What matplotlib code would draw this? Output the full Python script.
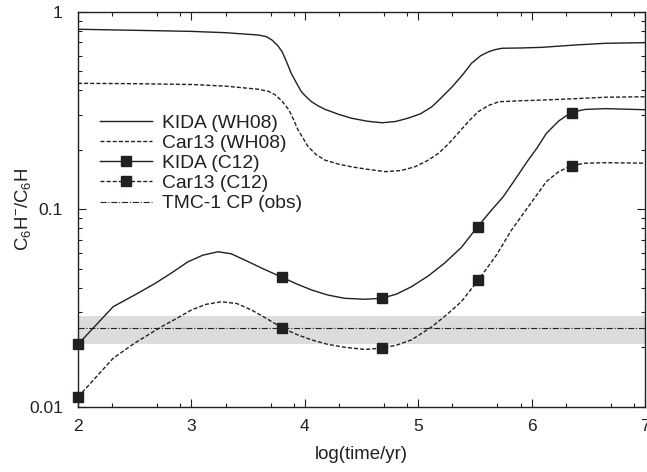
import matplotlib
matplotlib.use("Agg")
import matplotlib.pyplot as plt
from matplotlib.lines import Line2D
from matplotlib.ticker import FixedLocator, FuncFormatter, LogLocator, NullFormatter
import numpy as np

plt.rcParams['font.family'] = ['Liberation Sans', 'DejaVu Sans']
plt.rcParams['mathtext.fontset'] = 'custom'
plt.rcParams['mathtext.rm'] = 'Liberation Sans'
plt.rcParams['mathtext.it'] = 'Liberation Sans'

# ---- data ----
kida_wh08_x = [2.0, 2.5, 3.0, 3.30, 3.59, 3.66, 3.71, 3.76, 3.80, 3.84, 3.88, 3.93, 3.97, 4.02,
               4.06, 4.12, 4.18, 4.30, 4.41, 4.55, 4.68, 4.80, 4.91, 5.02, 5.12, 5.20, 5.30,
               5.39, 5.47, 5.55, 5.62, 5.68, 5.74, 5.90, 6.09, 6.38, 6.65, 7.0]
kida_wh08_y = [0.815, 0.805, 0.795, 0.783, 0.762, 0.748, 0.719, 0.675, 0.627, 0.556, 0.488,
               0.432, 0.393, 0.367, 0.350, 0.333, 0.320, 0.302, 0.289, 0.279, 0.274, 0.278,
               0.289, 0.304, 0.330, 0.365, 0.417, 0.478, 0.548, 0.598, 0.627, 0.643, 0.653,
               0.655, 0.660, 0.678, 0.692, 0.697]

car13_wh08_x = [2.0, 2.5, 3.0, 3.30, 3.59, 3.68, 3.74, 3.80, 3.86, 3.90, 3.94, 3.99, 4.03, 4.10,
                4.18, 4.30, 4.41, 4.56, 4.71, 4.85, 4.97, 5.08, 5.18, 5.27, 5.35, 5.44, 5.53,
                5.62, 5.71, 5.90, 6.09, 6.35, 6.65, 7.0]
car13_wh08_y = [0.434, 0.432, 0.428, 0.420, 0.405, 0.395, 0.379, 0.352, 0.318, 0.285, 0.252,
                0.226, 0.207, 0.189, 0.177, 0.169, 0.164, 0.159, 0.155, 0.157, 0.164, 0.176,
                0.192, 0.215, 0.242, 0.277, 0.312, 0.335, 0.350, 0.354, 0.357, 0.362, 0.369,
                0.371]

kida_c12_x = [2.0, 2.31, 2.50, 2.68, 2.83, 2.97, 3.10, 3.235, 3.35, 3.47, 3.63, 3.80, 3.93,
              4.06, 4.20, 4.35, 4.53, 4.68, 4.81, 4.94, 5.09, 5.23, 5.38, 5.52, 5.64, 5.75,
              5.86, 5.96, 6.05, 6.13, 6.24, 6.35, 6.47, 6.65, 7.0]
kida_c12_y = [0.0207, 0.0321, 0.0368, 0.0421, 0.0478, 0.0542, 0.0585, 0.0609, 0.0595, 0.0553,
              0.0500, 0.0452, 0.0418, 0.0390, 0.0368, 0.0354, 0.0350, 0.0354, 0.0372, 0.0405,
              0.0460, 0.0532, 0.0640, 0.081, 0.098, 0.1157, 0.143, 0.174, 0.205, 0.242, 0.280,
              0.309, 0.320, 0.323, 0.319]

car13_c12_x = [2.0, 2.31, 2.50, 2.735, 2.87, 3.00, 3.13, 3.264, 3.40, 3.53, 3.67, 3.80, 3.93,
               4.06, 4.20, 4.35, 4.53, 4.68, 4.81, 4.94, 5.03, 5.12, 5.25, 5.38, 5.53, 5.69,
               5.82, 5.96, 6.05, 6.13, 6.24, 6.35, 6.47, 6.65, 7.0]
car13_c12_y = [0.0112, 0.0176, 0.0210, 0.0254, 0.0280, 0.0309, 0.0330, 0.0340, 0.0333, 0.0309,
               0.0278, 0.0251, 0.0232, 0.0218, 0.0207, 0.0200, 0.0195, 0.0198, 0.0205, 0.0218,
               0.0235, 0.0254, 0.0292, 0.0340, 0.0438, 0.0586, 0.078, 0.101, 0.119, 0.138,
               0.155, 0.166, 0.171, 0.172, 0.171]

marker_x = [2.0, 3.802, 4.681, 5.525, 6.354]
kida_c12_marker_y = [0.0207, 0.0452, 0.0354, 0.081, 0.308]
car13_c12_marker_y = [0.0112, 0.0251, 0.0198, 0.0438, 0.166]

tmc1_obs = 0.025
tmc1_low = 0.0208
tmc1_high = 0.0288

labels = ['KIDA (WH08)', 'Car13 (WH08)', 'KIDA (C12)', 'Car13 (C12)', 'TMC-1 CP (obs)']

# ---- plot ----
fig = plt.figure(figsize=(6.47, 4.72), dpi=100)
ax = fig.add_axes([0.1206, 0.1383, 0.8763, 0.8369])

ink = '#231f20'
dash = (0, (2.9, 1.5))
dashdot = (0, (5.5, 1.6, 1.0, 1.6))
lw = 1.0

ax.axhspan(tmc1_low, tmc1_high, color='#dcdcde', lw=0, zorder=0)
ax.axhline(tmc1_obs, color=ink, lw=0.8, linestyle=dashdot, zorder=1)

ax.plot(kida_wh08_x, kida_wh08_y, color=ink, lw=lw, zorder=2)
ax.plot(car13_wh08_x, car13_wh08_y, color=ink, lw=lw, linestyle=dash, zorder=2)
ax.plot(kida_c12_x, kida_c12_y, color=ink, lw=lw, zorder=2)
ax.plot(car13_c12_x, car13_c12_y, color=ink, lw=lw, linestyle=dash, zorder=2)
ax.plot(marker_x, kida_c12_marker_y, 's', color=ink, ms=7.6, zorder=3, clip_on=False)
ax.plot(marker_x, car13_c12_marker_y, 's', color=ink, ms=7.6, zorder=3, clip_on=False)

ax.set_yscale('log')
ax.set_xlim(2, 7)
ax.set_ylim(0.01, 1)

ax.xaxis.set_major_locator(FixedLocator([2, 3, 4, 5, 6, 7]))
minors = []
for d in range(2, 7):
    for f in (0.301, 0.699, 0.903):
        minors.append(d + f)
ax.xaxis.set_minor_locator(FixedLocator(minors))

ax.yaxis.set_major_locator(FixedLocator([0.01, 0.1, 1]))
ax.yaxis.set_major_formatter(FuncFormatter(lambda v, p: {0.01: '0.01', 0.1: '0.1', 1: '1'}.get(round(v, 3), '')))
ax.yaxis.set_minor_locator(LogLocator(base=10, subs=np.arange(2, 10)))
ax.yaxis.set_minor_formatter(NullFormatter())

ax.tick_params(which='both', direction='in', top=True, right=True, colors=ink, labelsize=12.5, width=0.8)
ax.tick_params(which='major', length=5.5)
ax.tick_params(which='minor', length=3)
ax.tick_params(axis='x', which='major', pad=8.5)
ax.tick_params(axis='y', which='major', pad=11)
for s in ax.spines.values():
    s.set_linewidth(1.0)
    s.set_color(ink)

ax.set_xlabel('log(time/yr)', fontsize=13.4, color=ink, labelpad=9)
ax.set_ylabel(r'C$_6$H$^{-}$/C$_6$H', fontsize=13.4, color=ink)
ax.yaxis.set_label_coords(-0.079, 0.5)

handles = [
    Line2D([], [], color=ink, lw=lw),
    Line2D([], [], color=ink, lw=lw, linestyle=dash),
    Line2D([], [], color=ink, lw=lw, marker='s', ms=7.6),
    Line2D([], [], color=ink, lw=lw, linestyle=dash, marker='s', ms=7.6),
    Line2D([], [], color=ink, lw=0.8, linestyle=dashdot),
]
leg = ax.legend(handles, labels, loc='upper left', bbox_to_anchor=(0.025, 0.76), frameon=False,
                fontsize=13.85, handlelength=2.73, handletextpad=0.52, labelspacing=0.14,
                borderaxespad=0, numpoints=1)
for t in leg.get_texts():
    t.set_color(ink)

fig.savefig('out.png', dpi=100)
